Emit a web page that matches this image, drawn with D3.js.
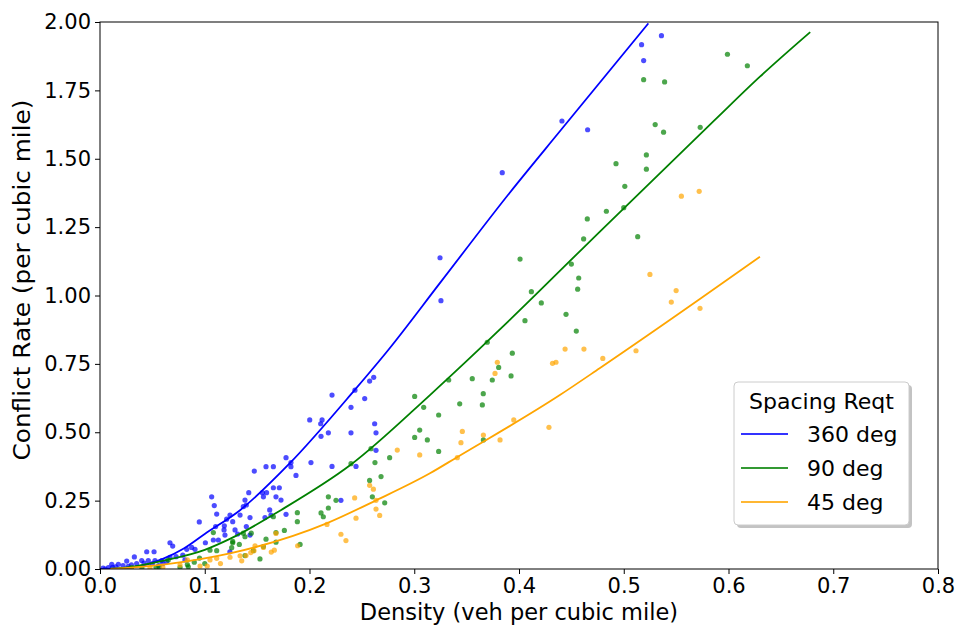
<!DOCTYPE html>
<html>
<head>
<meta charset="utf-8">
<script src="https://cdn.jsdelivr.net/npm/d3@7"></script>
<style>
  body { margin: 0; background: #fff; }
  text { font-family: "DejaVu Sans", sans-serif; fill: #000; }
</style>
</head>
<body>
<script>
// scatter data
var blueX = [0.536,0.517,0.519,0.441,0.4655,0.384,0.3246,0.3255,0.2215,0.2434,0.2527,0.2574,0.2613,0.2396,0.2002,0.212,0.2107,0.211,0.218,0.2396,0.2622,0.2635,0.2635,0.2014,0.2215,0.2444,0.230,
  0.1776,0.1823,0.1823,0.1871,0.1473,0.1585,0.1655,0.142,0.155,0.159,0.1655,0.1712,0.156,0.168,0.1728,0.1384,0.1397,0.1368,0.1337,0.1432,0.1575,0.162,0.1632,0.1776,0.1241,0.1267,0.1397,0.1432,0.124,
  0.1066,0.1091,0.1114,0.0948,0.1104,0.1187,0.1209,0.1184,0.1193,0.1289,0.1314,0.1082,0.1130,0.1006,0.0668,0.0694,0.0446,0.0516,0.0328,0.0255,0.0175,0.0112,0.0398,0.0461,0.0525,0.0589,0.0726,0.079,0.0828,0.0875,0.0907,0.0668,0.0637,0.0811,
  0.003,0.008,0.015,0.022,0.030,0.035,0.042,0.050,0.060,0.005,0.012,0.027,0.056];
var blueY = [1.950,1.917,1.859,1.638,1.606,1.449,1.138,0.981,0.636,0.654,0.623,0.687,0.701,0.591,0.545,0.545,0.531,0.485,0.498,0.498,0.531,0.498,0.434,0.389,0.375,0.375,0.251,
  0.407,0.389,0.374,0.342,0.358,0.374,0.374,0.279,0.279,0.279,0.297,0.297,0.264,0.264,0.252,0.252,0.234,0.228,0.197,0.188,0.188,0.216,0.197,0.200,0.197,0.173,0.155,0.124,0.063,
  0.264,0.232,0.201,0.172,0.155,0.158,0.182,0.143,0.124,0.143,0.128,0.106,0.106,0.096,0.096,0.084,0.063,0.063,0.044,0.029,0.017,0.017,0.031,0.031,0.031,0.031,0.045,0.051,0.072,0.079,0.072,0.043,0.027,0.033,
  0.003,0.005,0.008,0.012,0.015,0.020,0.022,0.020,0.020,0.000,0.006,0.010,0.012];

var greenX = [0.599,0.618,0.519,0.539,0.530,0.538,0.573,0.5216,0.5216,0.4926,0.501,0.4834,0.500,0.4652,0.4617,0.5133,0.401,0.450,0.457,0.456,0.4118,0.4213,0.4449,0.4057,0.4547,
  0.3697,0.3936,0.3806,0.3924,0.3745,0.3554,0.3329,0.3659,0.365,0.3434,0.3004,0.309,0.3233,0.3052,0.3004,0.3125,0.3233,0.366,0.2587,0.2765,0.2625,0.2396,0.2683,0.2574,0.260,0.2718,
  0.218,0.2253,0.218,0.211,0.2132,0.191,0.1884,0.1884,0.1655,0.176,0.168,0.168,0.1585,0.1368,0.1444,0.1384,0.1267,0.133,0.1464,0.1384,0.1527,0.156,0.1082,0.1114,0.105,0.1267,0.1257,
  0.0834,0.0764,0.0652,0.0535,0.0566,0.0843,0.095,0.100,0.090,0.030,0.040];
var greenY = [1.882,1.840,1.789,1.781,1.625,1.597,1.615,1.514,1.462,1.482,1.399,1.308,1.321,1.280,1.207,1.215,1.133,1.115,1.064,1.023,1.014,0.973,0.931,0.908,0.870,
  0.829,0.789,0.737,0.706,0.691,0.696,0.691,0.641,0.600,0.604,0.631,0.591,0.563,0.508,0.481,0.472,0.430,0.472,0.440,0.407,0.389,0.385,0.338,0.324,0.264,0.242,
  0.264,0.251,0.223,0.205,0.191,0.090,0.206,0.173,0.191,0.141,0.133,0.098,0.109,0.131,0.131,0.118,0.096,0.090,0.067,0.049,0.037,0.082,0.133,0.067,0.069,0.101,0.078,
  0.016,0.006,0.033,0.006,0.008,0.008,0.040,0.020,0.025,0.005,0.004];

var orangeX = [0.555,0.572,0.525,0.550,0.5454,0.5728,0.5117,0.480,0.444,0.462,0.4353,0.4320,0.3793,0.3771,0.395,0.3819,0.366,0.3459,0.3446,0.3411,0.3052,0.2838,0.4286,
  0.2574,0.261,0.2635,0.2431,0.2635,0.267,0.2444,0.2167,0.230,0.2348,0.1887,0.168,0.1635,0.1664,0.156,0.148,0.1439,0.147,0.1394,0.1353,
  0.0764,0.0834,0.0955,0.1024,0.105,0.1114,0.1241,0.1337,0.0477,0.030,0.060,0.115];
var orangeY = [1.363,1.381,1.077,1.018,0.976,0.953,0.798,0.770,0.804,0.804,0.756,0.752,0.756,0.715,0.545,0.472,0.490,0.503,0.462,0.407,0.417,0.435,0.518,
  0.306,0.292,0.251,0.260,0.219,0.196,0.186,0.163,0.127,0.104,0.085,0.130,0.062,0.069,0.079,0.085,0.060,0.067,0.049,0.030,
  0.015,0.033,0.011,0.011,0.033,0.039,0.043,0.048,0.004,0.002,0.006,0.020];

// fitted curves
var blueFitX = [0, 0.02, 0.04, 0.06, 0.08, 0.10, 0.134, 0.181, 0.243, 0.275, 0.325, 0.391, 0.44, 0.5235];
var blueFitY = [0, 0.003, 0.012, 0.037, 0.075, 0.128, 0.216, 0.386, 0.654, 0.80, 1.048, 1.375, 1.605, 1.995];
var greenFitX = [0.01, 0.03, 0.064, 0.10, 0.124, 0.173, 0.239, 0.315, 0.361, 0.391, 0.477, 0.587, 0.630, 0.678];
var greenFitY = [0.001, 0.008, 0.033, 0.07, 0.11, 0.216, 0.38, 0.636, 0.80, 0.91, 1.233, 1.642, 1.80, 1.963];
var orangeFitX = [0.01, 0.064, 0.124, 0.2163, 0.264, 0.315, 0.3405, 0.439, 0.477, 0.573, 0.630];
var orangeFitY = [0.0, 0.018, 0.057, 0.167, 0.252, 0.35, 0.408, 0.636, 0.734, 0.988, 1.142];

var seriesNames = ['360 deg', '90 deg', '45 deg'];
var seriesColors = ['blue', 'green', 'orange'];
var xTicks = [0, 0.1, 0.2, 0.3, 0.4, 0.5, 0.6, 0.7, 0.8];
var yTicks = [0, 0.25, 0.5, 0.75, 1.0, 1.25, 1.5, 1.75, 2.0];

function zip(xs, ys) {
  return xs.map(function(d, i) { return [d, ys[i]]; });
}

function drawChart() {
  var W = 956, H = 627;
  var left = 100, right = 938, top = 22, bottom = 569;
  var fs = 21;

  var svg = d3.select('body').append('svg')
    .attr('width', W)
    .attr('height', H);

  var x = d3.scaleLinear().domain([0, 0.8]).range([left, right]);
  var y = d3.scaleLinear().domain([0, 2]).range([bottom, top]);

  svg.append('clipPath').attr('id', 'plotclip')
    .append('rect')
    .attr('x', left).attr('y', top)
    .attr('width', right - left).attr('height', bottom - top);

  var plot = svg.append('g').attr('clip-path', 'url(#plotclip)');

  var scatter = [zip(blueX, blueY), zip(greenX, greenY), zip(orangeX, orangeY)];
  var fits = [zip(blueFitX, blueFitY), zip(greenFitX, greenFitY), zip(orangeFitX, orangeFitY)];

  // points first, then curves on top
  scatter.forEach(function(pts, k) {
    plot.append('g')
      .selectAll('circle')
      .data(pts)
      .enter()
      .append('circle')
        .attr('cx', function(d) { return x(d[0]); })
        .attr('cy', function(d) { return y(d[1]); })
        .attr('r', 2.6)
        .attr('fill', seriesColors[k])
        .attr('fill-opacity', 0.7);
  });

  var line = d3.line()
    .x(function(d) { return x(d[0]); })
    .y(function(d) { return y(d[1]); })
    .curve(d3.curveMonotoneX);

  fits.forEach(function(pts, k) {
    plot.append('path')
      .attr('d', line(pts))
      .attr('fill', 'none')
      .attr('stroke', seriesColors[k])
      .attr('stroke-width', 1.8);
  });

  // axes
  var xAxis = d3.axisBottom(x).tickValues(xTicks).tickFormat(d3.format('.1f')).tickSize(5).tickPadding(4);
  var yAxis = d3.axisLeft(y).tickValues(yTicks).tickFormat(d3.format('.2f')).tickSize(5).tickPadding(4);

  var gx = svg.append('g').attr('transform', 'translate(0,' + bottom + ')').call(xAxis);
  var gy = svg.append('g').attr('transform', 'translate(' + left + ',0)').call(yAxis);
  [gx, gy].forEach(function(g) {
    g.select('.domain').remove();
    g.selectAll('line').attr('stroke', '#000').attr('stroke-width', 1);
    g.selectAll('text')
      .style('font-family', '"DejaVu Sans", sans-serif')
      .style('font-size', fs + 'px')
      .attr('fill', '#000');
  });

  svg.append('rect')
    .attr('x', left).attr('y', top)
    .attr('width', right - left).attr('height', bottom - top)
    .attr('fill', 'none')
    .attr('stroke', '#000')
    .attr('stroke-width', 1);

  svg.append('text')
    .attr('x', (left + right) / 2)
    .attr('y', 620)
    .attr('text-anchor', 'middle')
    .style('font-size', '22.5px')
    .text('Density (veh per cubic mile)');

  svg.append('text')
    .attr('transform', 'translate(30,280) rotate(-90) scale(1.1,1)')
    .attr('text-anchor', 'middle')
    .style('font-size', '22.5px')
    .text('Conflict Rate (per cubic mile)');

  // legend
  var lx = 734, ly = 382, lw = 175, lh = 143;
  var leg = svg.append('g');
  leg.append('rect')
    .attr('x', lx + 3).attr('y', ly + 3)
    .attr('width', lw).attr('height', lh)
    .attr('rx', 4)
    .attr('fill', '#888').attr('fill-opacity', 0.5);
  leg.append('rect')
    .attr('x', lx).attr('y', ly)
    .attr('width', lw).attr('height', lh)
    .attr('rx', 4)
    .attr('fill', '#fff')
    .attr('stroke', '#ccc');
  leg.append('text')
    .attr('x', lx + lw / 2)
    .attr('y', ly + 27)
    .attr('text-anchor', 'middle')
    .style('font-size', '22px')
    .text('Spacing Reqt');

  seriesNames.forEach(function(name, k) {
    var yy = ly + 52 + k * 34;
    leg.append('line')
      .attr('x1', lx + 7).attr('x2', lx + 54)
      .attr('y1', yy).attr('y2', yy)
      .attr('stroke', seriesColors[k])
      .attr('stroke-opacity', 0.8)
      .attr('stroke-width', 1.8);
    leg.append('text')
      .attr('x', lx + 73)
      .attr('y', yy + 8)
      .style('font-size', '22px')
      .text(name);
  });
}

drawChart();
</script>
</body>
</html>
